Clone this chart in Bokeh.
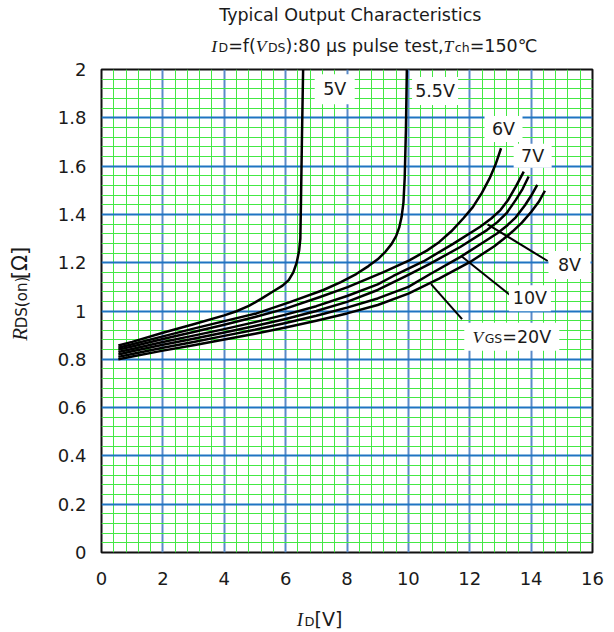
import math
from bokeh.plotting import figure
from bokeh.layouts import column, row
from bokeh.models import Range1d, FixedTicker, NumeralTickFormatter, Label
from bokeh.embed import file_html
from bokeh.resources import INLINE

# ---------------- data ----------------
x_ticks = [0, 2, 4, 6, 8, 10, 12, 14, 16]
y_ticks = [0, 0.2, 0.4, 0.6, 0.8, 1.0, 1.2, 1.4, 1.6, 1.8, 2.0]
x_minor_div = 5
y_minor_div = 5

id_5v = [0.55, 1, 2, 3, 4, 4.4, 4.8, 5.2, 5.6, 5.9, 6.1, 6.25, 6.36, 6.44, 6.48, 6.5, 6.53, 6.57]
r_5v = [0.857, 0.872, 0.91, 0.945, 0.982, 0.999, 1.021, 1.05, 1.082, 1.105, 1.128, 1.16, 1.2, 1.25, 1.3, 1.45, 1.7, 2.0]

id_5v5 = [0.55, 1, 2, 3, 4, 5.05, 6.14, 7.23, 7.8, 8.3, 8.7, 9.0, 9.25, 9.45, 9.6, 9.7, 9.78, 9.84, 9.88, 9.92, 9.95]
r_5v5 = [0.848, 0.862, 0.895, 0.927, 0.958, 0.99, 1.037, 1.087, 1.12, 1.153, 1.186, 1.214, 1.245, 1.277, 1.31, 1.345, 1.39, 1.45, 1.55, 1.75, 2.0]

id_6v = [0.55, 1, 2, 3, 4, 5, 6, 7.12, 8.02, 9.19, 10.03, 10.6, 11.0, 11.4, 11.8, 12.1, 12.4, 12.65, 12.85, 13.02]
r_6v = [0.84, 0.853, 0.884, 0.913, 0.943, 0.975, 1.01, 1.058, 1.099, 1.161, 1.21, 1.25, 1.285, 1.33, 1.385, 1.43, 1.49, 1.55, 1.61, 1.674]

id_7v = [0.55, 1, 2, 3, 4, 5, 6, 7, 8, 9, 9.51, 10.49, 11.47, 12.34, 12.7, 13.0, 13.25, 13.5, 13.76]
r_7v = [0.83, 0.843, 0.872, 0.898, 0.925, 0.954, 0.985, 1.02, 1.062, 1.11, 1.145, 1.205, 1.279, 1.349, 1.383, 1.418, 1.46, 1.515, 1.577]

id_8v = [0.55, 1, 2, 3, 4, 5, 6, 7, 8, 9, 10, 10.71, 11.69, 12.56, 12.9, 13.2, 13.5, 13.72, 13.92]
r_8v = [0.82, 0.833, 0.86, 0.885, 0.911, 0.938, 0.967, 1.0, 1.038, 1.087, 1.15, 1.196, 1.265, 1.335, 1.368, 1.405, 1.46, 1.505, 1.557]

id_10v = [0.55, 1, 2, 3, 4, 5, 6, 7, 8, 9, 10, 10.7, 11.7, 12.56, 12.9, 13.2, 13.5, 13.8, 14.0, 14.2]
r_10v = [0.81, 0.822, 0.848, 0.872, 0.897, 0.922, 0.95, 0.98, 1.014, 1.052, 1.1, 1.152, 1.224, 1.294, 1.322, 1.352, 1.388, 1.438, 1.477, 1.522]

id_20v = [0.55, 1, 2, 3, 4, 5, 6, 7, 8, 9, 10, 11, 12, 12.8, 13.1, 13.4, 13.7, 14.0, 14.25, 14.45]
r_20v = [0.80, 0.812, 0.836, 0.858, 0.882, 0.906, 0.932, 0.96, 0.99, 1.025, 1.072, 1.134, 1.202, 1.268, 1.298, 1.33, 1.366, 1.41, 1.452, 1.498]

curves = [(id_5v, r_5v), (id_5v5, r_5v5), (id_6v, r_6v), (id_7v, r_7v),
          (id_8v, r_8v), (id_10v, r_10v), (id_20v, r_20v)]

# curve labels (text, centre position in data units)
lab_text = ["5V", "5.5V", "6V", "7V", "8V", "10V"]
lab_x = [7.6, 10.87, 13.1, 14.05, 15.25, 13.96]
lab_y = [1.918, 1.911, 1.754, 1.643, 1.19, 1.053]
vgs_lab_x = 13.37
vgs_lab_y = 0.893

# leader lines: 8V, 10V, 20V
lead_x0 = [14.54, 13.35, 11.75]
lead_y0 = [1.207, 1.062, 0.966]
lead_x1 = [12.58, 11.72, 10.74]
lead_y1 = [1.359, 1.228, 1.111]

# ---------------- styles / layout ----------------
TXT = "#1a1a1a"
SANS = "DejaVu Sans"
SERIF = "Liberation Serif"
MAIN = 17.5
SUB = 12.5
KMID = 0.34          # 'middle' anchor height above the baseline, in em

W, H = 612, 630
TH = 59              # title strip height
YLW = 40             # y-label strip width
XLH = 33             # x-label strip height
MW, MH = W - YLW, H - TH - XLH

box_w = [40, 46, 38, 38, 42, 42]
box_h = [30, 28, 26, 24, 28, 26]
vgs_box = (95, 28)

DV = {' ': 0.318, '(': 0.390, ')': 0.390, ',': 0.318, '.': 0.318, ':': 0.337,
      '=': 0.838, '[': 0.390, ']': 0.390, 'C': 0.698, 'D': 0.770, 'G': 0.775,
      'O': 0.787, 'S': 0.635, 'T': 0.611, 'V': 0.684, 'a': 0.613, 'c': 0.550,
      'e': 0.615, 'f': 0.352, 'h': 0.634, 'i': 0.278, 'l': 0.278, 'n': 0.634,
      'o': 0.612, 'p': 0.635, 'r': 0.411, 's': 0.521, 't': 0.392, 'u': 0.634,
      'y': 0.592, 'μ': 0.636, 'Ω': 0.764, '℃': 1.1}
for d in "0123456789":
    DV[d] = 0.636
SI = {'I': 0.333, 'V': 0.611, 'T': 0.556, 'R': 0.611}


def seg_w(text, font, size):
    table = SI if font == SERIF else DV
    return sum(table.get(c, 0.6) for c in text) * size


def mk_label(**kw):
    return Label(text_color=TXT, text_align="left", text_baseline="middle", **kw)


def place_run(fig, segs, x0, y0, vertical=False, center=False, screen=False):
    """Write a run of text segments whose common baseline passes through (x0, y0)."""
    total = sum(seg_w(t, f, s) + g for t, f, st, s, g in segs)
    off = -total / 2 if center else 0
    for t, f, st, s, g in segs:
        kw = dict(text=t, text_font=f, text_font_style=st, text_font_size=f"{s}px")
        if vertical:
            lbl = mk_label(x=x0 - KMID * s, y=y0 + off, angle=math.pi / 2, **kw)
        elif screen:
            lbl = mk_label(x=x0, y=y0, x_offset=off, y_offset=-0.365 * MAIN + KMID * s, **kw)
        else:
            lbl = mk_label(x=x0 + off, y=y0 + KMID * s, **kw)
        fig.add_layout(lbl)
        off += seg_w(t, f, s) + g


def strip(w, h):
    f = figure(width=w, height=h, x_range=Range1d(0, w), y_range=Range1d(0, h),
               x_axis_type=None, y_axis_type=None, toolbar_location=None,
               output_backend="svg", min_border=0, outline_line_color=None)
    f.background_fill_color = "white"
    f.border_fill_color = "white"
    return f


# ---------------- main chart ----------------
p = figure(width=MW, height=MH, title=None,
           x_range=Range1d(0, 16), y_range=Range1d(0, 2),
           output_backend="svg", toolbar_location=None,
           min_border_left=61, min_border_right=20,
           min_border_top=10, min_border_bottom=45)
p.background_fill_color = "white"
p.border_fill_color = "white"
p.outline_line_color = "#111111"
p.outline_line_width = 2

x_minor = [x_ticks[i] + (x_ticks[i + 1] - x_ticks[i]) * k / x_minor_div
           for i in range(len(x_ticks) - 1) for k in range(1, x_minor_div)]
y_minor = [y_ticks[i] + (y_ticks[i + 1] - y_ticks[i]) * k / y_minor_div
           for i in range(len(y_ticks) - 1) for k in range(1, y_minor_div)]

p.xaxis.ticker = FixedTicker(ticks=x_ticks)
p.yaxis.ticker = FixedTicker(ticks=y_ticks)
p.xaxis.formatter = NumeralTickFormatter(format="0")
p.yaxis.formatter = NumeralTickFormatter(format="0.[0]")
for ax in (p.xaxis, p.yaxis):
    ax.major_tick_in = 0
    ax.major_tick_out = 0
    ax.minor_tick_line_color = None
    ax.axis_line_color = None
    ax.major_label_text_font = SANS
    ax.major_label_text_font_size = "18px"
    ax.major_label_text_color = TXT
p.xaxis.major_label_standoff = 19
p.yaxis.major_label_standoff = 15

p.xgrid.ticker = FixedTicker(ticks=x_ticks, minor_ticks=x_minor)
p.ygrid.ticker = FixedTicker(ticks=y_ticks, minor_ticks=y_minor)
p.xgrid.grid_line_color = "#5a8ac8"
p.ygrid.grid_line_color = "#1f74c2"
for g in (p.xgrid, p.ygrid):
    g.grid_line_width = 2
    g.grid_line_alpha = 1
    g.minor_grid_line_color = "#44e844"
    g.minor_grid_line_width = 1

for xs, ys in curves:
    p.line(xs, ys, line_color="black", line_width=2.5, line_join="round")

p.segment(x0=lead_x0, y0=lead_y0, x1=lead_x1, y1=lead_y1, line_color="black", line_width=2)

p.rect(x=lab_x, y=lab_y, width=box_w, height=box_h, width_units="screen",
       height_units="screen", fill_color="white", line_color=None)
p.rect(x=[vgs_lab_x], y=[vgs_lab_y], width=vgs_box[0], height=vgs_box[1],
       width_units="screen", height_units="screen", fill_color="white", line_color=None)

for t, x, y in zip(lab_text, lab_x, lab_y):
    p.add_layout(Label(x=x, y=y, text=t, text_font=SANS, text_font_size=f"{MAIN}px",
                       text_color=TXT, text_align="center", text_baseline="middle"))

place_run(p, [("V", SERIF, "italic", MAIN, 1.5), ("GS", SANS, "normal", SUB, 0),
              ("=20V", SANS, "normal", MAIN, 0)], vgs_lab_x, vgs_lab_y,
          center=True, screen=True)

# ---------------- title strip ----------------
tf = strip(W, TH)
tf.add_layout(Label(x=349.8, y=TH - 20.7 + KMID * MAIN, text="Typical Output Characteristics",
                    text_font=SANS, text_font_size=f"{MAIN}px", text_color=TXT,
                    text_align="center", text_baseline="middle"))
place_run(tf, [("I", SERIF, "italic", MAIN, 1.5), ("D", SANS, "normal", SUB, 0),
               ("=f(", SANS, "normal", MAIN, 0), ("V", SERIF, "italic", MAIN, 1.5),
               ("DS", SANS, "normal", SUB, 0), ("):80 μs pulse test,", SANS, "normal", MAIN, 0),
               ("T", SERIF, "italic", MAIN, 1.5), ("ch", SANS, "normal", SUB, 0),
               ("=150℃", SANS, "normal", MAIN, 0)], 210.7, TH - 51.3)

# ---------------- y label strip ----------------
yf = strip(YLW, MH)
place_run(yf, [("R", SERIF, "italic", 21, 1), ("DS(on)", SANS, "normal", 15, 3),
               ("[Ω]", SANS, "normal", 21, 0)], 26.3, 236, vertical=True)

# ---------------- x label strip ----------------
xf = strip(W, XLH)
place_run(xf, [("I", SERIF, "italic", 19, 1.5), ("D", SANS, "normal", 13, 0),
               ("[V]", SANS, "normal", 19, 0)], 319, 5, center=True)

layout = column(tf, row(yf, p), xf)
open("out.html", "w").write(file_html(layout, INLINE))
